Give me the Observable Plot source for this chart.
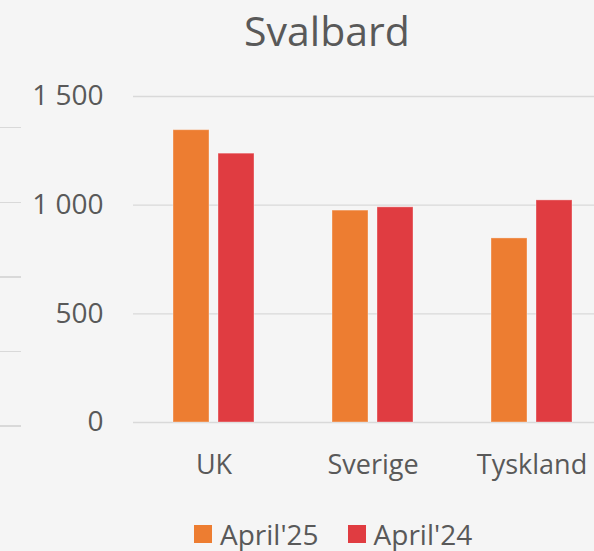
<!DOCTYPE html>
<html><head><meta charset="utf-8">
<script src="https://cdn.jsdelivr.net/npm/d3@7"></script>
<script src="https://cdn.jsdelivr.net/npm/@observablehq/plot@0.6"></script>
<style>
html,body{margin:0;padding:0;background:#f5f5f5;overflow:hidden;width:594px;height:551px;}
#root{position:relative;width:594px;height:551px;font-family:"Open Sans",sans-serif;color:#595959;overflow:hidden;}
#title{position:absolute;left:0;width:654px;top:10px;text-align:center;font-size:41px;line-height:1;}
#grid,#chart{position:absolute;left:0;top:0;}
#stray{position:absolute;left:0;top:127px;width:21px;height:302px;background:repeating-linear-gradient(to bottom,#d9d9d9 0 1.5px,transparent 1.5px 74.6px);}
#legend{position:absolute;left:194px;top:520px;display:flex;align-items:center;font-size:28px;line-height:1;white-space:nowrap;}
.sw{display:inline-block;width:18px;height:18px;margin-right:8px;}
.item{display:flex;align-items:center;margin-right:29px;}
</style>
</head><body>
<div id="root">
  <div id="stray"></div>
  <div id="grid"></div>
  <div id="chart"></div>
  <div id="title">Svalbard</div>
  <div id="legend"></div>
</div>
<script>
const countries = ["UK", "Sverige", "Tyskland"];
const series = ["April'25", "April'24"];
const april25 = [1345, 975, 847];
const april24 = [1237, 990, 1022];
const yTicks = [0, 500, 1000, 1500];
const colors = ["#ED7D31", "#E03C41"];

const data = countries.flatMap((c, i) => [
  {country: c, series: series[0], value: april25[i]},
  {country: c, series: series[1], value: april24[i]}
]);
const fmt = d => d3.format(",")(d).replace(/,/g, " ");

const common = {
  width: 594,
  height: 500,
  marginTop: 96,
  marginBottom: 78,
  marginLeft: 133,
  marginRight: 0,
  style: {background: "transparent", color: "#595959", fontFamily: "Open Sans", fontSize: "28px", overflow: "visible"},
  y: {domain: [0, 1500], axis: null}
};

const grid = Plot.plot({
  ...common,
  marks: [
    Plot.ruleY(yTicks, {y: d => d, stroke: "#d9d9d9", strokeWidth: 1.4}),
    Plot.text(yTicks, {y: d => d, text: fmt, frameAnchor: "left", textAnchor: "end", dx: -30, fontSize: 28, fill: "#595959"})
  ]
});
document.getElementById("grid").appendChild(grid);

const chart = Plot.plot({
  ...common,
  fx: {domain: countries, range: [133, 612], paddingInner: 0.49, paddingOuter: 0.245, label: null},
  x: {domain: series, paddingInner: 0.21, paddingOuter: 0, axis: null},
  color: {domain: series, range: colors},
  marks: [
    Plot.barY(data, {fx: "country", x: "series", y: "value", fill: "series", stroke: "#fff", strokeOpacity: 0.35, strokeWidth: 1}),
    Plot.axisFx({anchor: "bottom", tickSize: 0, tickPadding: 32, fontSize: 27, label: null})
  ]
});
document.getElementById("chart").appendChild(chart);

const color = chart.scale("color");
const legend = d3.select("#legend");
series.forEach((s, i) => {
  const item = legend.append("div").attr("class", "item");
  item.append("span").attr("class", "sw").style("background", color.range[i]);
  item.append("span").text(s);
});
</script>
</body></html>
